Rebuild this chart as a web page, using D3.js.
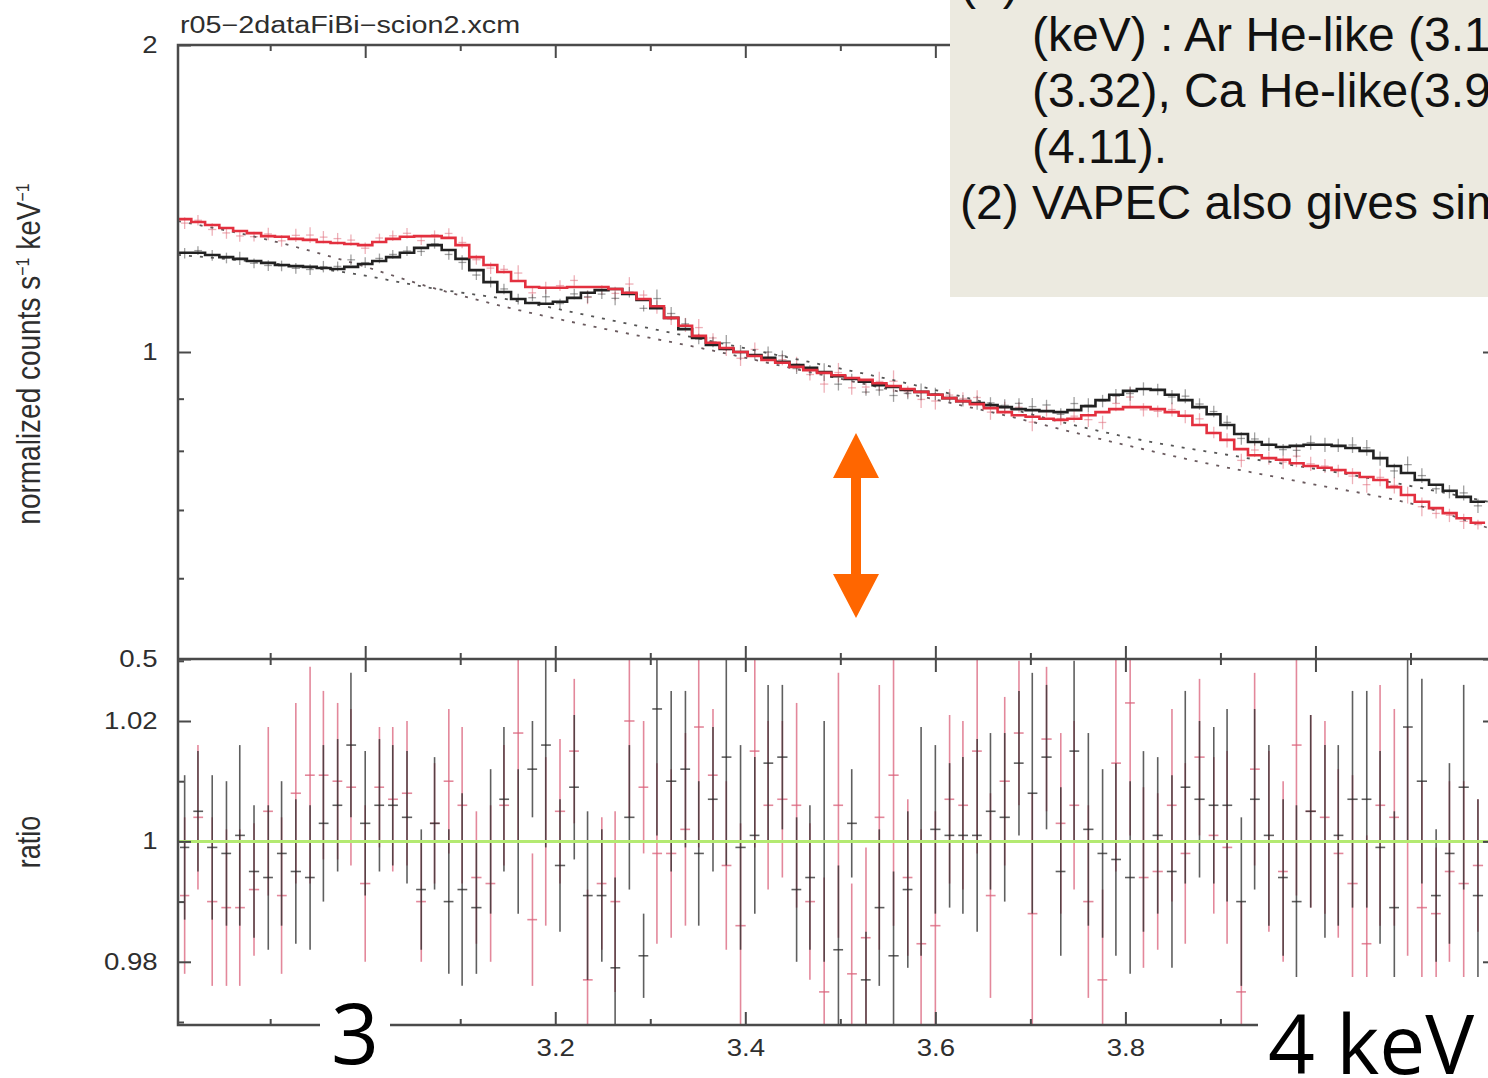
<!DOCTYPE html>
<html>
<head>
<meta charset="utf-8">
<script src="https://cdn.jsdelivr.net/npm/d3@7"></script>
<style>
  body { margin: 0; background: #fff; }
  svg { display: block; }
</style>
</head>
<body>
<div id="chart-area"></div>
<script>
/*
*    xspec spectrum, 2.8 - 4.2 keV, two data sets + ratio panel
*/

// bin centres (keV)
var energy = [2.810,2.824,2.839,2.854,2.868,2.883,2.898,2.912,2.927,2.942,
  2.956,2.971,2.985,3.000,3.015,3.029,3.044,3.059,3.073,3.088,
  3.102,3.117,3.132,3.146,3.161,3.176,3.190,3.205,3.220,3.234,
  3.249,3.263,3.278,3.293,3.307,3.322,3.337,3.351,3.366,3.380,
  3.395,3.410,3.424,3.439,3.454,3.468,3.483,3.498,3.512,3.527,
  3.541,3.556,3.571,3.585,3.600,3.615,3.629,3.644,3.658,3.673,
  3.688,3.702,3.717,3.732,3.746,3.761,3.776,3.790,3.805,3.819,
  3.834,3.849,3.863,3.878,3.893,3.907,3.922,3.936,3.951,3.966,
  3.980,3.995,4.010,4.024,4.039,4.054,4.068,4.083,4.097,4.112,
  4.127,4.141,4.156,4.171];

// folded model, normalized counts s-1 keV-1
var modelBlack = [1.251,1.251,1.245,1.239,1.234,1.228,1.223,1.217,1.214,1.212,
  1.209,1.206,1.212,1.220,1.228,1.239,1.251,1.265,1.273,1.259,
  1.234,1.203,1.171,1.145,1.127,1.117,1.115,1.120,1.130,1.143,
  1.150,1.153,1.140,1.125,1.104,1.080,1.053,1.032,1.016,1.007,
  1.000,0.993,0.987,0.978,0.971,0.965,0.956,0.947,0.941,0.935,
  0.928,0.924,0.918,0.914,0.908,0.901,0.895,0.891,0.887,0.883,
  0.879,0.877,0.875,0.873,0.877,0.885,0.897,0.908,0.916,0.920,
  0.918,0.908,0.897,0.883,0.869,0.848,0.831,0.816,0.811,0.807,
  0.809,0.811,0.811,0.809,0.805,0.800,0.787,0.773,0.761,0.749,
  0.741,0.731,0.721,0.713];
var modelRed = [1.350,1.341,1.332,1.323,1.314,1.308,1.299,1.297,1.291,1.288,
  1.282,1.279,1.276,1.273,1.282,1.291,1.297,1.299,1.299,1.294,
  1.273,1.239,1.217,1.198,1.174,1.158,1.156,1.156,1.158,1.158,
  1.158,1.153,1.143,1.127,1.109,1.080,1.061,1.037,1.021,1.009,
  1.000,0.991,0.982,0.976,0.967,0.960,0.954,0.949,0.943,0.939,
  0.932,0.926,0.920,0.914,0.908,0.901,0.895,0.889,0.881,0.873,
  0.867,0.864,0.860,0.858,0.860,0.867,0.873,0.879,0.883,0.883,
  0.879,0.873,0.866,0.848,0.833,0.820,0.803,0.792,0.787,0.784,
  0.778,0.773,0.770,0.766,0.761,0.754,0.749,0.737,0.724,0.713,
  0.703,0.695,0.687,0.680];

// data / model
var ratioBlack = [0.999,1.005,0.999,0.998,1.001,0.995,0.994,0.998,0.995,0.994,
  1.003,1.006,1.016,1.003,1.006,1.006,1.004,0.992,1.003,0.990,
  0.992,0.989,1.000,1.007,1.000,1.012,1.016,0.996,1.009,0.991,
  0.991,0.979,1.004,0.981,1.022,1.010,1.012,0.998,1.007,1.014,
  0.999,1.001,1.013,1.014,0.992,0.994,1.000,0.982,1.003,0.977,
  0.989,0.981,0.992,1.000,1.002,1.001,1.001,1.001,1.005,1.004,
  1.013,1.008,1.014,0.995,1.015,1.002,0.998,0.997,0.994,1.000,
  1.001,0.995,1.009,1.007,1.006,1.006,0.990,1.007,1.001,0.994,
  0.990,1.005,1.000,1.001,1.007,1.007,0.999,0.989,1.019,1.010,
  0.991,0.998,1.009,0.991];
var ratioRed = [0.991,1.004,0.990,0.989,0.989,0.992,1.005,0.991,1.008,1.011,
  1.011,1.010,1.009,0.993,1.009,1.007,1.008,0.990,1.003,1.010,
  1.006,0.994,0.993,1.006,1.018,0.987,1.000,1.005,1.015,0.977,
  0.993,0.990,1.020,1.009,0.998,0.998,1.002,1.019,1.011,0.996,
  0.986,1.015,1.006,1.007,1.006,0.990,0.975,1.006,0.978,0.984,
  1.004,1.011,0.994,0.983,0.986,1.007,1.006,1.015,0.991,1.010,
  1.018,0.988,1.017,1.003,1.006,0.990,0.977,1.013,1.023,0.994,
  0.995,1.006,0.998,1.014,1.001,0.999,0.975,1.012,1.000,0.995,
  1.016,1.005,1.004,0.998,0.993,0.983,1.006,1.004,1.000,0.989,
  0.988,0.995,0.993,0.996];

// 1 sigma errors on the ratio
var errBlack = [0.012,0.010,0.012,0.012,0.015,0.011,0.012,0.012,0.012,0.012,
  0.013,0.011,0.012,0.012,0.011,0.010,0.011,0.010,0.011,0.012,
  0.016,0.011,0.012,0.012,0.012,0.008,0.017,0.011,0.012,0.014,
  0.011,0.015,0.012,0.007,0.021,0.015,0.013,0.012,0.012,0.018,
  0.017,0.013,0.013,0.012,0.012,0.012,0.020,0.014,0.009,0.008,
  0.013,0.014,0.013,0.019,0.014,0.012,0.013,0.016,0.013,0.014,
  0.012,0.020,0.012,0.014,0.015,0.016,0.014,0.016,0.016,0.015,
  0.013,0.016,0.016,0.013,0.013,0.016,0.014,0.015,0.015,0.013,
  0.016,0.016,0.016,0.015,0.018,0.018,0.016,0.016,0.019,0.017,
  0.011,0.015,0.017,0.016];
var errRed = [0.013,0.012,0.014,0.013,0.013,0.011,0.014,0.013,0.015,0.018,
  0.014,0.013,0.013,0.013,0.010,0.012,0.012,0.010,0.010,0.012,
  0.013,0.011,0.013,0.010,0.018,0.011,0.014,0.012,0.012,0.015,
  0.011,0.015,0.016,0.011,0.015,0.014,0.016,0.020,0.011,0.014,
  0.017,0.016,0.014,0.013,0.017,0.013,0.019,0.022,0.015,0.015,
  0.022,0.025,0.013,0.019,0.019,0.014,0.014,0.017,0.017,0.014,
  0.012,0.020,0.012,0.015,0.014,0.016,0.015,0.018,0.022,0.015,
  0.013,0.016,0.015,0.013,0.013,0.016,0.015,0.016,0.015,0.015,
  0.025,0.016,0.016,0.014,0.018,0.018,0.020,0.018,0.019,0.021,
  0.011,0.015,0.017,0.011];

// continuum components (dotted)
var contBlackE = [2.803,2.889,2.984,3.068,3.160,3.247,3.353,3.458,3.563,3.668,3.732,3.805,3.921,4.037,4.182];
var contBlack  = [1.245,1.225,1.195,1.156,1.122,1.080,1.030,0.982,0.935,0.885,0.854,0.824,0.789,0.758,0.713];
var contRedE   = [2.803,2.889,2.984,3.068,3.160,3.247,3.353,3.458,3.563,3.668,3.787,3.879,3.984,4.118,4.182];
var contRed    = [1.344,1.294,1.225,1.158,1.100,1.056,1.009,0.960,0.914,0.869,0.816,0.780,0.746,0.703,0.672];

// ticks (3 and 4 keV labels are hidden under the slide's own labels)
var xMajor = [3.0, 3.2, 3.4, 3.6, 3.8, 4.0];
var xMinor = [2.9, 3.1, 3.3, 3.5, 3.7, 3.9, 4.1];
var xLabels = ["", "3.2", "3.4", "3.6", "3.8", ""];
var topMajor = [0.5, 1, 2];
var topMinor = [0.6, 0.7, 0.8, 0.9];
var topLabels = ["0.5", "1", "2"];
var ratMajor = [0.98, 1, 1.02];
var ratMinor = [0.97, 0.99, 1.01, 1.03];
var ratLabels = ["0.98", "1", "1.02"];

// slide text box, as much of it as is in frame
var noteLines = ["(1)",
  "(keV) : Ar He-like (3.1",
  "(3.32), Ca He-like(3.9",
  "(4.11).",
  "(2) VAPEC also gives sim"];

var frameColor = "#4a4a4a";
var plotFont = "'Liberation Sans', Arial, Helvetica, sans-serif";

var svg = d3.select("#chart-area")
  .append("svg")
    .attr("width", 1488)
    .attr("height", 1078);

var x = d3.scaleLinear().domain([2.803, 4.19]).range([178, 1496]);
var yTop = d3.scaleLog().domain([0.5, 2]).range([659, 45]);
var yRat = d3.scaleLinear().domain([0.9695, 1.0303]).range([1025, 659]);

var defs = svg.append("defs");
defs.append("clipPath").attr("id", "clipTop")
  .append("rect").attr("x", 178).attr("y", 45).attr("width", 1318).attr("height", 614);
defs.append("clipPath").attr("id", "clipRat")
  .append("rect").attr("x", 178).attr("y", 659).attr("width", 1318).attr("height", 366);

// bins with edges
var bins = energy.map((e, i) => {
  var prev = i > 0 ? energy[i - 1] : e - (energy[1] - energy[0]);
  var next = i < energy.length - 1 ? energy[i + 1] : e + (e - energy[i - 1]);
  return {e: e, lo: (prev + e) / 2, hi: (e + next) / 2,
    mB: modelBlack[i], mR: modelRed[i],
    rB: ratioBlack[i], rR: ratioRed[i], eB: errBlack[i], eR: errRed[i]};
});

// ---- ratio panel ----
var gRat = svg.append("g").attr("clip-path", "url(#clipRat)");

function ratioBars(key, errKey, color, op) {
  var g = gRat.append("g").attr("stroke", color).attr("stroke-opacity", op).attr("stroke-width", 1.6);
  g.selectAll(".v").data(bins).enter().append("line")
    .attr("x1", (d) => x(d.e)).attr("x2", (d) => x(d.e))
    .attr("y1", (d) => yRat(d[key] - d[errKey])).attr("y2", (d) => yRat(d[key] + d[errKey]));
  g.selectAll(".h").data(bins).enter().append("line")
    .attr("x1", (d) => x(d.lo) + 2).attr("x2", (d) => x(d.hi) - 2)
    .attr("y1", (d) => yRat(d[key])).attr("y2", (d) => yRat(d[key]));
}
ratioBars("rR", "eR", "#d9607a", 0.75);
ratioBars("rB", "eB", "#2a2a2a", 0.75);

gRat.append("line")
  .attr("x1", 178).attr("x2", 1496)
  .attr("y1", yRat(1)).attr("y2", yRat(1))
  .attr("stroke", "#b4ea72").attr("stroke-width", 3);

// ---- spectrum panel ----
var gTop = svg.append("g").attr("clip-path", "url(#clipTop)");

function dataCrosses(mKey, rKey, errKey, color, op) {
  var g = gTop.append("g").attr("stroke", color).attr("stroke-opacity", op).attr("stroke-width", 1.3);
  g.selectAll(".v").data(bins).enter().append("line")
    .attr("x1", (d) => x(d.e)).attr("x2", (d) => x(d.e))
    .attr("y1", (d) => yTop(d[mKey] * (d[rKey] - d[errKey])))
    .attr("y2", (d) => yTop(d[mKey] * (d[rKey] + d[errKey])));
  g.selectAll(".h").data(bins).enter().append("line")
    .attr("x1", (d) => x(d.lo) + 3).attr("x2", (d) => x(d.hi) - 3)
    .attr("y1", (d) => yTop(d[mKey] * d[rKey])).attr("y2", (d) => yTop(d[mKey] * d[rKey]));
}
dataCrosses("mR", "rR", "eR", "#e0707e", 0.55);
dataCrosses("mB", "rB", "eB", "#444", 0.5);

var contLine = d3.line()
  .x((d) => x(d[0]))
  .y((d) => yTop(d[1]))
  .curve(d3.curveMonotoneX);

gTop.append("path")
  .attr("d", contLine(contBlackE.map((e, i) => [e, contBlack[i]])))
  .attr("fill", "none").attr("stroke", "#555").attr("stroke-width", 1.8)
  .attr("stroke-dasharray", "3,8");
gTop.append("path")
  .attr("d", contLine(contRedE.map((e, i) => [e, contRed[i]])))
  .attr("fill", "none").attr("stroke", "#6a5a5e").attr("stroke-width", 1.8)
  .attr("stroke-dasharray", "3,8");

var stepLine = d3.line()
  .x((d) => x(d[0]))
  .y((d) => yTop(d[1]));

function stepPoints(key) {
  var pts = [];
  bins.forEach((d) => { pts.push([d.lo, d[key]]); pts.push([d.hi, d[key]]); });
  return pts;
}
gTop.append("path")
  .attr("d", stepLine(stepPoints("mB")))
  .attr("fill", "none").attr("stroke", "#222").attr("stroke-width", 2.6);
gTop.append("path")
  .attr("d", stepLine(stepPoints("mR")))
  .attr("fill", "none").attr("stroke", "#e3303f").attr("stroke-width", 2.6);

// ---- axes ----
function drawAxis(axis, tx, ty) {
  var g = svg.append("g")
    .attr("transform", "translate(" + tx + "," + ty + ")")
    .call(axis);
  g.select(".domain").remove();
  g.selectAll(".tick line").attr("stroke", frameColor).attr("stroke-width", 2);
  g.selectAll(".tick text")
    .attr("fill", "#2e2e2e")
    .attr("font-size", 23)
    .attr("font-family", plotFont)
    .attr("transform", "scale(1.2,1)");
  g.selectAll(".tick text").filter(function() { return this.textContent === ""; }).remove();
  return g;
}

// x ticks: top frame, panel border (both sides), bottom frame
drawAxis(d3.axisTop(x).tickValues(xMajor).tickSize(-13).tickFormat(""), 0, 45);
drawAxis(d3.axisTop(x).tickValues(xMinor).tickSize(-6).tickFormat(""), 0, 45);
drawAxis(d3.axisBottom(x).tickValues(xMajor).tickSize(-13).tickFormat(""), 0, 659);
drawAxis(d3.axisBottom(x).tickValues(xMinor).tickSize(-6).tickFormat(""), 0, 659);
drawAxis(d3.axisTop(x).tickValues(xMajor).tickSize(-13).tickFormat(""), 0, 659);
drawAxis(d3.axisTop(x).tickValues(xMinor).tickSize(-6).tickFormat(""), 0, 659);
drawAxis(d3.axisBottom(x).tickValues(xMajor).tickSize(-13).tickPadding(15)
  .tickFormat((d, i) => xLabels[i]), 0, 1025);
drawAxis(d3.axisBottom(x).tickValues(xMinor).tickSize(-6).tickFormat(""), 0, 1025);

// y ticks
drawAxis(d3.axisLeft(yTop).tickValues(topMajor).tickSize(-13).tickPadding(17)
  .tickFormat((d, i) => topLabels[i]), 178, 0);
drawAxis(d3.axisLeft(yTop).tickValues(topMinor).tickSize(-6).tickFormat(""), 178, 0);
drawAxis(d3.axisRight(yTop).tickValues(topMajor).tickSize(-13).tickFormat(""), 1496, 0);
drawAxis(d3.axisRight(yTop).tickValues(topMinor).tickSize(-6).tickFormat(""), 1496, 0);
drawAxis(d3.axisLeft(yRat).tickValues(ratMajor).tickSize(-13).tickPadding(17)
  .tickFormat((d, i) => ratLabels[i]), 178, 0);
drawAxis(d3.axisLeft(yRat).tickValues(ratMinor).tickSize(-6).tickFormat(""), 178, 0);
drawAxis(d3.axisRight(yRat).tickValues(ratMajor).tickSize(-13).tickFormat(""), 1496, 0);

// frame
var frame = svg.append("g").attr("stroke", frameColor).attr("stroke-width", 2.5).attr("fill", "none");
frame.append("rect").attr("x", 178).attr("y", 45).attr("width", 1318).attr("height", 980);
frame.append("line").attr("x1", 178).attr("x2", 1496).attr("y1", 659).attr("y2", 659);

// labels
svg.append("text")
  .attr("transform", "translate(180,33) scale(1.25,1)")
  .attr("font-family", plotFont).attr("font-size", 23).attr("fill", "#2e2e2e")
  .text("r05\u22122dataFiBi\u2212scion2.xcm");

var yLab = svg.append("text")
  .attr("transform", "translate(40,354) scale(1.2,1) rotate(-90)")
  .attr("text-anchor", "middle")
  .attr("font-family", plotFont).attr("font-size", 28).attr("fill", "#2e2e2e");
yLab.append("tspan").text("normalized counts s");
yLab.append("tspan").attr("baseline-shift", "super").attr("font-size", 16).text("\u22121");
yLab.append("tspan").text(" keV");
yLab.append("tspan").attr("baseline-shift", "super").attr("font-size", 16).text("\u22121");

svg.append("text")
  .attr("transform", "translate(40,842) scale(1.2,1) rotate(-90)")
  .attr("text-anchor", "middle")
  .attr("font-family", plotFont).attr("font-size", 27).attr("fill", "#2e2e2e")
  .text("ratio");

// ---- slide overlays ----
svg.append("rect")
  .attr("x", 950).attr("y", 0).attr("width", 538).attr("height", 297)
  .attr("fill", "#ECEAE0");

var noteX = [960, 1032, 1032, 1032, 960];
var noteY = [-1, 51, 107, 163, 219];
svg.selectAll(".note").data(noteLines).enter().append("text")
  .attr("class", "note")
  .attr("x", (d, i) => noteX[i])
  .attr("y", (d, i) => noteY[i])
  .attr("font-family", "'Liberation Sans', Arial, sans-serif")
  .attr("font-size", 48)
  .attr("fill", "#111")
  .text((d) => d);

// orange double arrow
var ax = 856;
svg.append("path")
  .attr("d", "M" + ax + ",433 L" + (ax + 23) + ",478 L" + (ax + 5) + ",478 L" + (ax + 5) + ",574 L" + (ax + 23) + ",574 L" + ax + ",618 L" + (ax - 23) + ",574 L" + (ax - 5) + ",574 L" + (ax - 5) + ",478 L" + (ax - 23) + ",478 Z")
  .attr("fill", "#FF6600");

// big energy labels
svg.append("rect").attr("x", 320).attr("y", 992).attr("width", 70).attr("height", 86).attr("fill", "#fff");
svg.append("text")
  .attr("x", 355).attr("y", 1064)
  .attr("text-anchor", "middle")
  .attr("font-family", "'Open Sans', 'Noto Sans', sans-serif")
  .attr("font-size", 84).attr("fill", "#000")
  .text("3");

svg.append("rect").attr("x", 1258).attr("y", 977).attr("width", 230).attr("height", 101).attr("fill", "#fff");
svg.append("text")
  .attr("x", 1268).attr("y", 1074)
  .attr("font-family", "'Open Sans', 'Noto Sans', sans-serif")
  .attr("font-size", 82).attr("fill", "#000")
  .text("4 keV");
</script>
</body>
</html>
